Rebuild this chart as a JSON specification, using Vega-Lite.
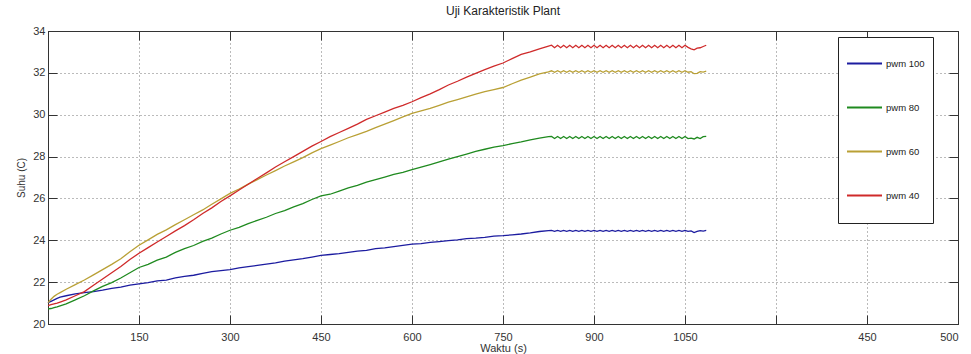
{
"$schema": "https://vega.github.io/schema/vega-lite/v6.json",
"width": 910, "height": 293,
"autosize": {"type": "none"},
"padding": {"left": 48, "top": 31, "right": 13, "bottom": 30},
"background": "white",
"config": {"view": {"stroke": "#222", "strokeWidth": 1}, "font": "Liberation Sans"},
"title": {"text": "Uji Karakteristik Plant", "fontSize": 12, "fontWeight": "normal", "color": "#222", "offset": 7, "font": "Liberation Sans"},
"data": {"values": [
{"t":0,"b":21.02,"g":20.72,"y":21.02,"r":20.88},
{"t":5,"b":21.08,"g":20.74,"y":21.18,"r":20.92},
{"t":10,"b":21.15,"g":20.78,"y":21.32,"r":20.96},
{"t":15,"b":21.22,"g":20.82,"y":21.42,"r":21.0},
{"t":20,"b":21.28,"g":20.87,"y":21.5,"r":21.05},
{"t":30,"b":21.35,"g":20.96,"y":21.66,"r":21.15},
{"t":45,"b":21.44,"g":21.15,"y":21.88,"r":21.35},
{"t":60,"b":21.5,"g":21.35,"y":22.1,"r":21.55},
{"t":75,"b":21.55,"g":21.58,"y":22.35,"r":21.85},
{"t":90,"b":21.62,"g":21.8,"y":22.6,"r":22.15},
{"t":105,"b":21.7,"g":21.98,"y":22.85,"r":22.45},
{"t":120,"b":21.76,"g":22.2,"y":23.12,"r":22.75},
{"t":135,"b":21.86,"g":22.45,"y":23.45,"r":23.08},
{"t":150,"b":21.92,"g":22.7,"y":23.76,"r":23.38},
{"t":165,"b":21.98,"g":22.85,"y":24.02,"r":23.65},
{"t":180,"b":22.06,"g":23.05,"y":24.28,"r":23.92},
{"t":195,"b":22.1,"g":23.2,"y":24.5,"r":24.18},
{"t":210,"b":22.2,"g":23.42,"y":24.75,"r":24.45},
{"t":225,"b":22.28,"g":23.6,"y":24.98,"r":24.7},
{"t":240,"b":22.33,"g":23.75,"y":25.22,"r":24.98},
{"t":255,"b":22.42,"g":23.95,"y":25.45,"r":25.28},
{"t":270,"b":22.5,"g":24.1,"y":25.72,"r":25.55},
{"t":285,"b":22.55,"g":24.3,"y":25.98,"r":25.85},
{"t":300,"b":22.6,"g":24.48,"y":26.24,"r":26.12},
{"t":315,"b":22.68,"g":24.62,"y":26.45,"r":26.4},
{"t":330,"b":22.74,"g":24.8,"y":26.68,"r":26.68},
{"t":345,"b":22.8,"g":24.95,"y":26.9,"r":26.95},
{"t":360,"b":22.86,"g":25.1,"y":27.12,"r":27.22},
{"t":375,"b":22.92,"g":25.28,"y":27.33,"r":27.5},
{"t":390,"b":23.0,"g":25.42,"y":27.55,"r":27.75},
{"t":405,"b":23.06,"g":25.6,"y":27.75,"r":28.0},
{"t":420,"b":23.12,"g":25.75,"y":27.95,"r":28.25},
{"t":435,"b":23.2,"g":25.95,"y":28.18,"r":28.5},
{"t":450,"b":23.28,"g":26.12,"y":28.38,"r":28.72},
{"t":465,"b":23.32,"g":26.2,"y":28.55,"r":28.95},
{"t":480,"b":23.36,"g":26.35,"y":28.72,"r":29.15},
{"t":495,"b":23.42,"g":26.5,"y":28.9,"r":29.35},
{"t":510,"b":23.48,"g":26.62,"y":29.05,"r":29.55},
{"t":525,"b":23.52,"g":26.78,"y":29.2,"r":29.78},
{"t":540,"b":23.6,"g":26.9,"y":29.38,"r":29.95},
{"t":555,"b":23.64,"g":27.02,"y":29.55,"r":30.12},
{"t":570,"b":23.7,"g":27.15,"y":29.72,"r":30.3},
{"t":585,"b":23.76,"g":27.25,"y":29.9,"r":30.45},
{"t":600,"b":23.82,"g":27.38,"y":30.06,"r":30.62},
{"t":615,"b":23.84,"g":27.5,"y":30.18,"r":30.82},
{"t":630,"b":23.9,"g":27.62,"y":30.3,"r":31.0},
{"t":645,"b":23.94,"g":27.75,"y":30.45,"r":31.2},
{"t":660,"b":23.98,"g":27.88,"y":30.6,"r":31.42},
{"t":675,"b":24.02,"g":28.0,"y":30.72,"r":31.6},
{"t":690,"b":24.08,"g":28.12,"y":30.85,"r":31.8},
{"t":705,"b":24.1,"g":28.25,"y":30.98,"r":31.98},
{"t":720,"b":24.14,"g":28.35,"y":31.1,"r":32.15},
{"t":735,"b":24.2,"g":28.45,"y":31.2,"r":32.32},
{"t":750,"b":24.22,"g":28.52,"y":31.3,"r":32.47},
{"t":765,"b":24.26,"g":28.62,"y":31.48,"r":32.68},
{"t":780,"b":24.3,"g":28.7,"y":31.65,"r":32.88},
{"t":795,"b":24.35,"g":28.8,"y":31.8,"r":33.0},
{"t":810,"b":24.42,"g":28.88,"y":31.95,"r":33.15},
{"t":825,"b":24.46,"g":28.95,"y":32.05,"r":33.28},
{"t":830,"b":24.47,"g":28.96,"y":32.1,"r":33.32},
{"t":835,"b":24.43,"g":28.86,"y":32.03,"r":33.2},
{"t":840,"b":24.47,"g":28.96,"y":32.1,"r":33.32},
{"t":845,"b":24.43,"g":28.86,"y":32.03,"r":33.2},
{"t":850,"b":24.47,"g":28.96,"y":32.1,"r":33.32},
{"t":855,"b":24.43,"g":28.86,"y":32.03,"r":33.2},
{"t":860,"b":24.47,"g":28.96,"y":32.1,"r":33.32},
{"t":865,"b":24.43,"g":28.86,"y":32.03,"r":33.2},
{"t":870,"b":24.47,"g":28.96,"y":32.1,"r":33.32},
{"t":875,"b":24.43,"g":28.86,"y":32.03,"r":33.2},
{"t":880,"b":24.47,"g":28.96,"y":32.1,"r":33.32},
{"t":885,"b":24.43,"g":28.86,"y":32.03,"r":33.2},
{"t":890,"b":24.47,"g":28.96,"y":32.1,"r":33.32},
{"t":895,"b":24.43,"g":28.86,"y":32.03,"r":33.2},
{"t":900,"b":24.47,"g":28.96,"y":32.1,"r":33.32},
{"t":905,"b":24.43,"g":28.86,"y":32.03,"r":33.2},
{"t":910,"b":24.47,"g":28.96,"y":32.1,"r":33.32},
{"t":915,"b":24.43,"g":28.86,"y":32.03,"r":33.2},
{"t":920,"b":24.47,"g":28.96,"y":32.1,"r":33.32},
{"t":925,"b":24.43,"g":28.86,"y":32.03,"r":33.2},
{"t":930,"b":24.47,"g":28.96,"y":32.1,"r":33.32},
{"t":935,"b":24.43,"g":28.86,"y":32.03,"r":33.2},
{"t":940,"b":24.47,"g":28.96,"y":32.1,"r":33.32},
{"t":945,"b":24.43,"g":28.86,"y":32.03,"r":33.2},
{"t":950,"b":24.47,"g":28.96,"y":32.1,"r":33.32},
{"t":955,"b":24.43,"g":28.86,"y":32.03,"r":33.2},
{"t":960,"b":24.47,"g":28.96,"y":32.1,"r":33.32},
{"t":965,"b":24.43,"g":28.86,"y":32.03,"r":33.2},
{"t":970,"b":24.47,"g":28.96,"y":32.1,"r":33.32},
{"t":975,"b":24.43,"g":28.86,"y":32.03,"r":33.2},
{"t":980,"b":24.47,"g":28.96,"y":32.1,"r":33.32},
{"t":985,"b":24.43,"g":28.86,"y":32.03,"r":33.2},
{"t":990,"b":24.47,"g":28.96,"y":32.1,"r":33.32},
{"t":995,"b":24.43,"g":28.86,"y":32.03,"r":33.2},
{"t":1000,"b":24.47,"g":28.96,"y":32.1,"r":33.32},
{"t":1005,"b":24.43,"g":28.86,"y":32.03,"r":33.2},
{"t":1010,"b":24.47,"g":28.96,"y":32.1,"r":33.32},
{"t":1015,"b":24.43,"g":28.86,"y":32.03,"r":33.2},
{"t":1020,"b":24.47,"g":28.96,"y":32.1,"r":33.32},
{"t":1025,"b":24.43,"g":28.86,"y":32.03,"r":33.2},
{"t":1030,"b":24.47,"g":28.96,"y":32.1,"r":33.32},
{"t":1035,"b":24.43,"g":28.86,"y":32.03,"r":33.2},
{"t":1040,"b":24.47,"g":28.96,"y":32.1,"r":33.32},
{"t":1045,"b":24.43,"g":28.86,"y":32.03,"r":33.2},
{"t":1050,"b":24.47,"g":28.96,"y":32.1,"r":33.32},
{"t":1055,"b":24.43,"g":28.86,"y":32.03,"r":33.22},
{"t":1060,"b":24.45,"g":28.88,"y":32.06,"r":33.15},
{"t":1065,"b":24.37,"g":28.84,"y":31.96,"r":33.1},
{"t":1070,"b":24.42,"g":28.92,"y":31.98,"r":33.18},
{"t":1075,"b":24.46,"g":28.86,"y":32.06,"r":33.2},
{"t":1080,"b":24.44,"g":28.95,"y":32.04,"r":33.26},
{"t":1085,"b":24.47,"g":28.97,"y":32.08,"r":33.32}
]},
"transform": [{"fold": ["b", "g", "y", "r"], "as": ["k", "v"]}],
"layer": [
{
"mark": {"type": "line", "strokeWidth": 1.3},
"encoding": {
"x": {"field": "t", "type": "quantitative",
"scale": {"domain": [0, 1500], "nice": false, "zero": false},
"axis": {"orient": "bottom", "title": "Waktu (s)", "values": [0,150,300,450,600,750,900,1050,1200,1350,1500],
"labelExpr": "datum.value == 1350 ? '450' : datum.value == 1500 ? '500' : (datum.value == 0 || datum.value == 1200) ? '' : '' + datum.value",
"grid": true, "gridDash": [1, 3], "gridColor": "#777", "gridWidth": 1,
"tickSize": -9, "tickColor": "#333", "domainColor": "#333",
"labelFontSize": 11, "labelColor": "#333", "labelPadding": 16, "labelFont": "Liberation Sans",
"titleFontSize": 11, "titleFontWeight": "normal", "titleColor": "#333", "titlePadding": 0, "titleFont": "Liberation Sans"}},
"y": {"field": "v", "type": "quantitative",
"scale": {"domain": [20, 34], "nice": false, "zero": false},
"axis": {"orient": "left", "title": "Suhu (C)", "values": [20,22,24,26,28,30,32,34],
"grid": true, "gridDash": [1, 3], "gridColor": "#777", "gridWidth": 1,
"tickSize": -9, "tickColor": "#333", "domainColor": "#333",
"labelFontSize": 11, "labelColor": "#333", "labelPadding": 12, "labelFont": "Liberation Sans",
"titleFontSize": 10, "titleFontWeight": "normal", "titleColor": "#333", "titlePadding": 6, "titleFont": "Liberation Sans"}},
"color": {"field": "k", "type": "nominal",
"scale": {"domain": ["b", "g", "y", "r"], "range": ["#1c1ca0", "#1f8a1f", "#b9a035", "#cf2a2a"]},
"legend": {"orient": "none", "legendX": 790, "legendY": 6, "title": " ", "titleOrient": "bottom", "titleFontSize": 10, "titlePadding": 5,
"fillColor": "white", "strokeColor": "#222", "padding": 8, "cornerRadius": 0,
"symbolType": "stroke", "symbolSize": 1225, "symbolStrokeWidth": 2,
"rowPadding": 21, "labelFontSize": 9.5, "labelColor": "#222", "labelOffset": 3, "labelFont": "Liberation Sans",
"labelExpr": "{'b': 'pwm 100', 'g': 'pwm 80', 'y': 'pwm 60', 'r': 'pwm 40'}[datum.label]"}}
}
},
{
"mark": {"type": "line", "opacity": 0},
"encoding": {
"x": {"field": "t", "type": "quantitative",
"scale": {"domain": [0, 1500], "nice": false, "zero": false},
"axis": {"orient": "top", "title": null, "labels": false, "grid": false, "values": [0,150,300,450,600,750,900,1050,1200,1350,1500],
"tickSize": -9, "tickColor": "#333", "domainColor": "#333"}},
"y": {"field": "v", "type": "quantitative",
"scale": {"domain": [20, 34], "nice": false, "zero": false},
"axis": {"orient": "right", "title": null, "labels": false, "grid": false, "values": [20,22,24,26,28,30,32,34],
"tickSize": -9, "tickColor": "#333", "domainColor": "#333"}}
}
}
],
"resolve": {"axis": {"x": "independent", "y": "independent"}}
}
